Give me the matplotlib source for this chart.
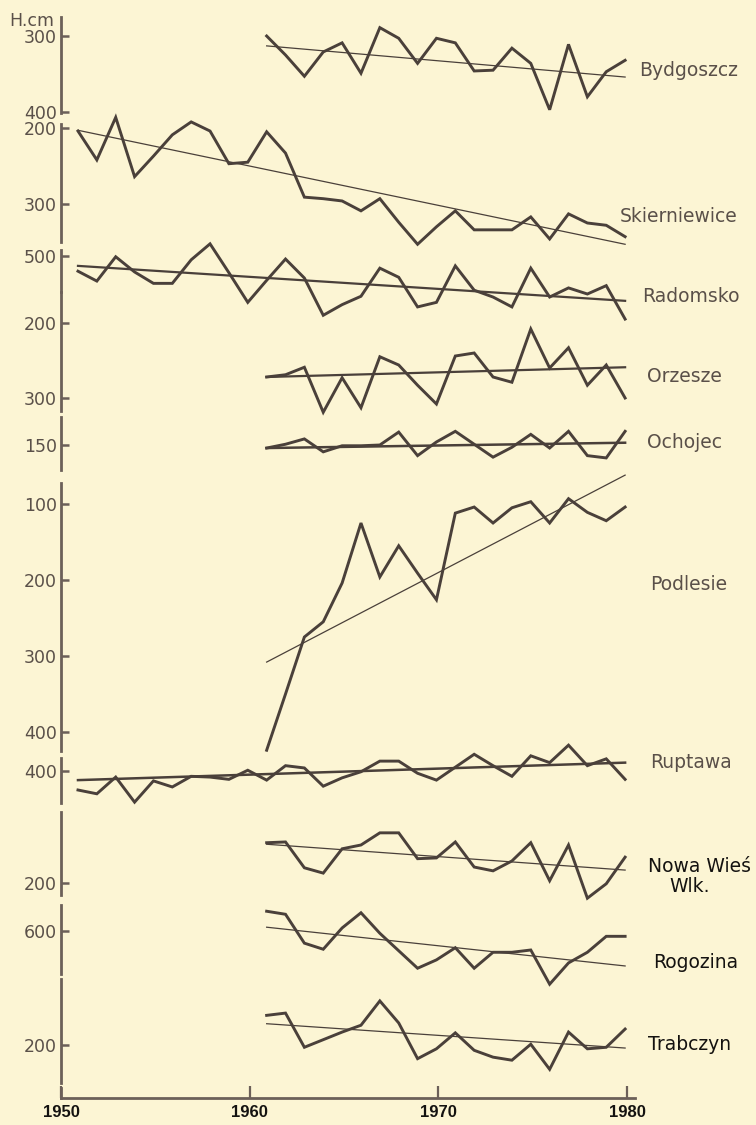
import matplotlib.pyplot as plt

# ---------------------------------------------------------------
# data: groundwater depth H [cm], yearly means
# ---------------------------------------------------------------
years_long = list(range(1951, 1981))
years_short = list(range(1961, 1981))

bydgoszcz = [300, 325, 353, 321, 309, 349, 289, 303, 336, 303,
             309, 346, 345, 316, 336, 397, 311, 380, 347, 332]
bydgoszcz_trend = [313, 354]

skierniewice = [204, 242, 186, 264, 237, 209, 192, 204, 247, 245,
                205, 233, 291, 293, 296, 309, 293, 324, 353, 330,
                309, 334, 334, 334, 317, 346, 313, 325, 328, 343]
skierniewice_trend = [203, 353]

radomsko = [520, 533, 501, 521, 536, 536, 505, 484, 522, 561,
            532, 504, 529, 578, 564, 553, 516, 528, 567, 561,
            513, 545, 554, 567, 516, 554, 542, 550, 539, 583]
radomsko_trend = [513, 559]

orzesze = [272, 269, 259, 319, 273, 313, 245, 256, 283, 308,
           244, 240, 272, 279, 208, 260, 233, 283, 256, 300]
orzesze_trend = [272, 259]

ochojec = [154, 149, 142, 159, 151, 151, 150, 133, 164, 146,
           132, 149, 166, 153, 136, 154, 132, 164, 167, 132]
ochojec_trend = [154, 147]

podlesie = [424, 350, 275, 255, 204, 125, 196, 155, 191, 226,
            112, 104, 125, 105, 97, 125, 93, 111, 122, 104]
podlesie_trend = [308, 62]

ruptawa = [425, 430, 408, 441, 413, 421, 407, 408, 411, 399,
           412, 393, 396, 420, 409, 401, 387, 387, 403, 412,
           395, 378, 393, 407, 380, 389, 366, 393, 384, 411]
ruptawa_trend = [412, 389]

nowa_wies = [147, 146, 180, 187, 155, 150, 134, 134, 168, 167,
             146, 179, 184, 171, 147, 197, 150, 220, 201, 166]
nowa_wies_trend = [149, 183]

rogozina = [574, 578, 616, 624, 596, 576, 603, 626, 649, 638,
            622, 649, 628, 628, 625, 670, 642, 628, 607, 607]
rogozina_trend = [595, 646]

trabczyn = [161, 158, 203, 193, 183, 174, 142, 171, 218, 205,
            184, 207, 216, 220, 199, 232, 183, 205, 203, 179]
trabczyn_trend = [172, 204]

year_ticks = [1950, 1960, 1970, 1980]

# ---------------------------------------------------------------
# styling / layout (pixels of the 756 x 1125 sheet)
# ---------------------------------------------------------------
W, H = 756, 1125
BG = '#fcf5d4'
INK = '#4a403a'
AXIS = '#6c6059'
GREY_TXT = '#5a5049'
DARK_TXT = '#141210'

X0, X1980, X1 = 61, 627, 635
PX_YEAR = (X1980 - X0) / 30
XOFF = -0.1

fig = plt.figure(figsize=(W / 100, H / 100), dpi=100, facecolor=BG)


def panel(y_top, y_bot, ref_val, ref_px, ticks, k=0.76):
    ax = fig.add_axes([X0 / W, 1 - y_bot / H, (X1 - X0) / W, (y_bot - y_top) / H])
    ax.patch.set_visible(False)
    ax.set_xlim(1950, 1980 + (X1 - X1980) / PX_YEAR)
    ax.set_ylim(ref_val + (y_bot - ref_px) / k, ref_val + (y_top - ref_px) / k)
    for s in ['top', 'right', 'bottom']:
        ax.spines[s].set_visible(False)
    ax.spines['left'].set_color(AXIS)
    ax.spines['left'].set_linewidth(2.0)
    ax.set_xticks([])
    ax.set_yticks(ticks)
    ax.tick_params(axis='y', direction='in', length=6, width=1.8, colors=AXIS,
                   labelcolor=GREY_TXT, labelsize=12.5, pad=3)
    return ax


def series(ax, years, vals, trend, trend_lw=0.9):
    xs = [y + XOFF for y in years]
    ax.plot(xs, vals, color=INK, lw=2.1, clip_on=False, solid_joinstyle='miter')
    ax.plot([xs[0], xs[-1]], trend, color=INK, lw=trend_lw, clip_on=False)


def label(x, y, txt, dark=False, ha='left'):
    fig.text(x / W, 1 - y / H, txt, ha=ha, va='center', fontsize=13.5,
             color=DARK_TXT if dark else GREY_TXT,
             fontweight='medium' if dark else 'normal')


# Bydgoszcz
ax = panel(17, 113, 300, 36, [300, 400])
series(ax, years_short, bydgoszcz, bydgoszcz_trend)
fig.text(32 / W, 1 - 21 / H, 'H.cm', ha='center', va='center', fontsize=12.5, color=GREY_TXT)
label(639, 70, 'Bydgoszcz')

# Skierniewice
ax = panel(124, 242, 200, 128, [200, 300])
series(ax, years_long, skierniewice, skierniewice_trend)
label(620, 217, 'Skierniewice')

# Radomsko (upper part of the shared segment)
ax = panel(250, 292, 500, 256, [500])
series(ax, years_long, radomsko, radomsko_trend, trend_lw=1.6)
label(642, 297, 'Radomsko')

# Orzesze
ax = panel(292, 411, 200, 323, [200, 300], k=0.75)
series(ax, years_short, orzesze, orzesze_trend, trend_lw=1.6)
label(647, 377, 'Orzesze')

# Ochojec
ax = panel(417, 470, 150, 445, [150])
series(ax, years_short, ochojec, ochojec_trend, trend_lw=1.8)
label(647, 443, 'Ochojec')

# Podlesie
ax = panel(483, 751, 100, 504, [100, 200, 300, 400])
series(ax, years_short, podlesie, podlesie_trend)
label(650, 585, 'Podlesie')

# Ruptawa
ax = panel(758, 803, 400, 771, [400])
series(ax, years_long, ruptawa, ruptawa_trend, trend_lw=1.8)
label(650, 762, 'Ruptawa')

# Nowa Wies Wlk.
ax = panel(812, 895, 200, 883, [200])
series(ax, years_short, nowa_wies, nowa_wies_trend)
label(700, 866, 'Nowa Wieś', dark=True, ha='center')
label(690, 886, 'Wlk.', dark=True, ha='center')

# Rogozina
ax = panel(905, 974, 600, 931, [600])
series(ax, years_short, rogozina, rogozina_trend)
label(653, 962, 'Rogozina', dark=True)

# Trabczyn
ax = panel(979, 1083, 200, 1045, [200])
series(ax, years_short, trabczyn, trabczyn_trend)
label(648, 1045, 'Trabczyn', dark=True)

# time axis
base = fig.add_axes([X0 / W, 1 - 1098 / H, (X1 - X0) / W, 10 / H])
base.patch.set_visible(False)
base.set_xlim(1950, 1980 + (X1 - X1980) / PX_YEAR)
for s in ['top', 'right']:
    base.spines[s].set_visible(False)
for s in ['left', 'bottom']:
    base.spines[s].set_color(AXIS)
    base.spines[s].set_linewidth(2.0)
base.set_yticks([])
base.set_xticks(year_ticks)
base.set_xticklabels([str(y) for y in year_ticks],
                     family=['Liberation Sans', 'DejaVu Sans'],
                     fontweight='bold', fontsize=12)
base.tick_params(axis='x', direction='in', length=9, width=1.6, colors=AXIS,
                 labelcolor=DARK_TXT, pad=5)

fig.savefig('out.png', dpi=100, facecolor=BG)
